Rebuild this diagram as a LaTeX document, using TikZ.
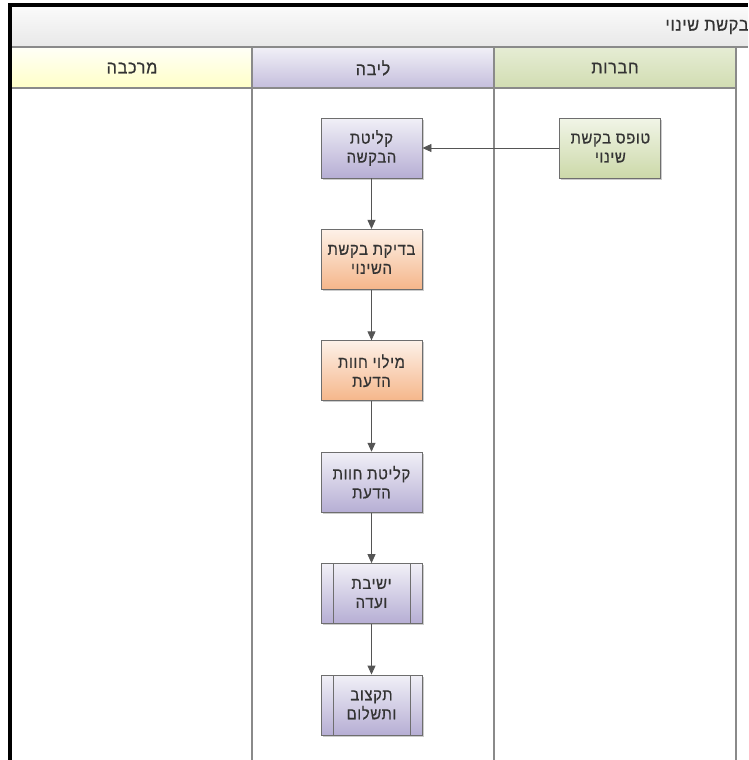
\documentclass[tikz,border=0pt]{standalone}
\usepackage{fontspec}
\usepackage{tikz}
\usetikzlibrary{positioning, arrows.meta, shadows}
\newfontfamily\hebfont[Script=Hebrew, FakeBold=0.6, FakeStretch=0.9, LetterSpace=4]{Liberation Sans}
\TeXXeTstate=1
\newcommand{\heb}[1]{{\hebfont\beginR #1\endR}}

\definecolor{laneline}{HTML}{8A8A8A}
\definecolor{boxline}{HTML}{6E6E6E}
\definecolor{arrowgray}{HTML}{555555}
\definecolor{purpletop}{HTML}{F1F0F7}
\definecolor{purplebot}{HTML}{B6AED4}
\definecolor{orangetop}{HTML}{FDF1E8}
\definecolor{orangebot}{HTML}{F5B68A}
\definecolor{greentop}{HTML}{F1F5E7}
\definecolor{greenbot}{HTML}{CCD9A9}

\tikzset{
	task/.style={draw=boxline, line width=0.9pt, minimum width=101pt, minimum height=60pt,
		inner sep=2pt, align=center, font=\fontsize{16.5}{19}\selectfont, text=black!80,
		drop shadow={shadow xshift=1.5pt, shadow yshift=-1.5pt, opacity=0.2, fill=black}},
	purpletask/.style={task, top color=purpletop, bottom color=purplebot},
	orangetask/.style={task, top color=orangetop, bottom color=orangebot},
	greentask/.style={task, top color=greentop, bottom color=greenbot},
	subproc/.style={purpletask, path picture={
		\draw[boxline, line width=0.9pt] ([xshift=12pt]path picture bounding box.north west) -- ([xshift=12pt]path picture bounding box.south west);
		\draw[boxline, line width=0.9pt] ([xshift=-12pt]path picture bounding box.north east) -- ([xshift=-12pt]path picture bounding box.south east);}},
	flow/.style={arrowgray, line width=0.9pt, -{Triangle[length=9pt, width=8pt]}},
	lanehead/.style={font=\fontsize{18}{19}\selectfont, text=black!80}
}

\begin{document}
\begin{tikzpicture}[x=1pt, y=-1pt]
	\useasboundingbox (0,0) rectangle (748,760);
	% Title band
	\shade[top color=white!98!black, bottom color=white!91!black] (12,7) rectangle (748,47);
	\node[lanehead, anchor=east] (title) at (752,27) {\heb{בקשת שינוי}};
	% Lane headers
	\shade[top color=yellow!3, bottom color=yellow!22] (12,47) rectangle (252,88);
	\shade[top color=purpletop, bottom color=purplebot!80] (252,47) rectangle (494,88);
	\shade[top color=greentop!70!greenbot, bottom color=greenbot!90] (494,47) rectangle (736,88);
	\draw[laneline, line width=1.3pt] (12,47) -- (748,47);
	\draw[laneline, line width=1.3pt] (12,88) -- (736,88);
	\foreach \x in {252,494,736} {
		\draw[laneline, line width=1.3pt] (\x,47) -- (\x,760);
	}
	\node[lanehead] (merkava) at (132,68) {\heb{מרכבה}};
	\node[lanehead] (liba) at (373,68) {\heb{ליבה}};
	\node[lanehead] (chevrot) at (615,68) {\heb{חברות}};
	% Frame
	\draw[black, line width=4pt] (10,760) -- (10,5) -- (748,5);

	% Tasks
	\node[purpletask] (klita) at (371.5,148) {\heb{קליטת}\\\heb{הבקשה}};
	\node[greentask, right=137pt of klita] (tofes) {\heb{טופס בקשת}\\\heb{שינוי}};
	\node[orangetask, below=50.5pt of klita] (bdika) {\heb{בדיקת בקשת}\\\heb{השינוי}};
	\node[orangetask, below=50.5pt of bdika] (milui) {\heb{מילוי חוות}\\\heb{הדעת}};
	\node[purpletask, below=50.5pt of milui] (klitahd) {\heb{קליטת חוות}\\\heb{הדעת}};
	\node[subproc, below=50.5pt of klitahd] (yeshiva) {\heb{ישיבת}\\\heb{ועדה}};
	\node[subproc, below=50.5pt of yeshiva] (tiktzuv) {\heb{תקצוב}\\\heb{ותשלום}};

	\draw[flow] (tofes) -- (klita);
	\draw[flow] (klita) -- (bdika);
	\draw[flow] (bdika) -- (milui);
	\draw[flow] (milui) -- (klitahd);
	\draw[flow] (klitahd) -- (yeshiva);
	\draw[flow] (yeshiva) -- (tiktzuv);
\end{tikzpicture}
\end{document}
